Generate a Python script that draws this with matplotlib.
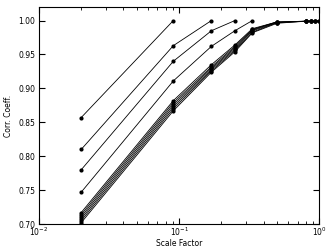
import matplotlib
matplotlib.use("Agg")
import matplotlib.pyplot as plt

# scale factors and correlation coefficients, one series per line
scale = [0.02, 0.0909, 0.17, 0.25, 0.333, 0.5, 0.8, 0.866, 0.93, 1.0]

series = [
    [0.857, 1.000],
    [0.810, 0.963, 1.000],
    [0.780, 0.940, 0.985, 1.000],
    [0.747, 0.911, 0.962, 0.985, 1.000],
    [0.717, 0.882, 0.935, 0.964, 0.988, 0.998],
    [0.714, 0.879, 0.932, 0.962, 0.987, 0.998, 0.999],
    [0.711, 0.876, 0.930, 0.960, 0.986, 0.998, 0.999, 0.999],
    [0.708, 0.873, 0.928, 0.958, 0.985, 0.997, 0.999, 0.999, 0.999],
    [0.705, 0.870, 0.926, 0.956, 0.983, 0.997, 0.999, 0.999, 0.999, 1.000],
    [0.702, 0.867, 0.924, 0.954, 0.982, 0.996, 0.999, 0.999, 0.999, 1.000],
]

fig = plt.figure(figsize=(3.29, 2.49), dpi=100)
ax = fig.add_axes([0.1185, 0.10, 0.852, 0.872])

for vals in series:
    ax.plot(scale[:len(vals)], vals, color="black", lw=0.6, marker="o",
            markersize=3, markeredgewidth=0)

ax.set_xscale("log")
ax.set_xlim(0.01, 1.0)
ax.set_ylim(0.70, 1.02)
ax.set_yticks([0.70, 0.75, 0.80, 0.85, 0.90, 0.95, 1.00])
ax.set_xlabel("Scale Factor", fontsize=5.5, labelpad=0.5)
ax.set_ylabel("Corr. Coeff.", fontsize=5.5, labelpad=4)
ax.tick_params(which="both", direction="in", top=True, right=True,
               labelsize=5.5, pad=2.5)
ax.tick_params(axis="x", which="both", pad=1)
ax.tick_params(which="major", length=4)
ax.tick_params(which="minor", length=2)
for s in ax.spines.values():
    s.set_linewidth(0.8)

plt.savefig("out.png", dpi=100)
